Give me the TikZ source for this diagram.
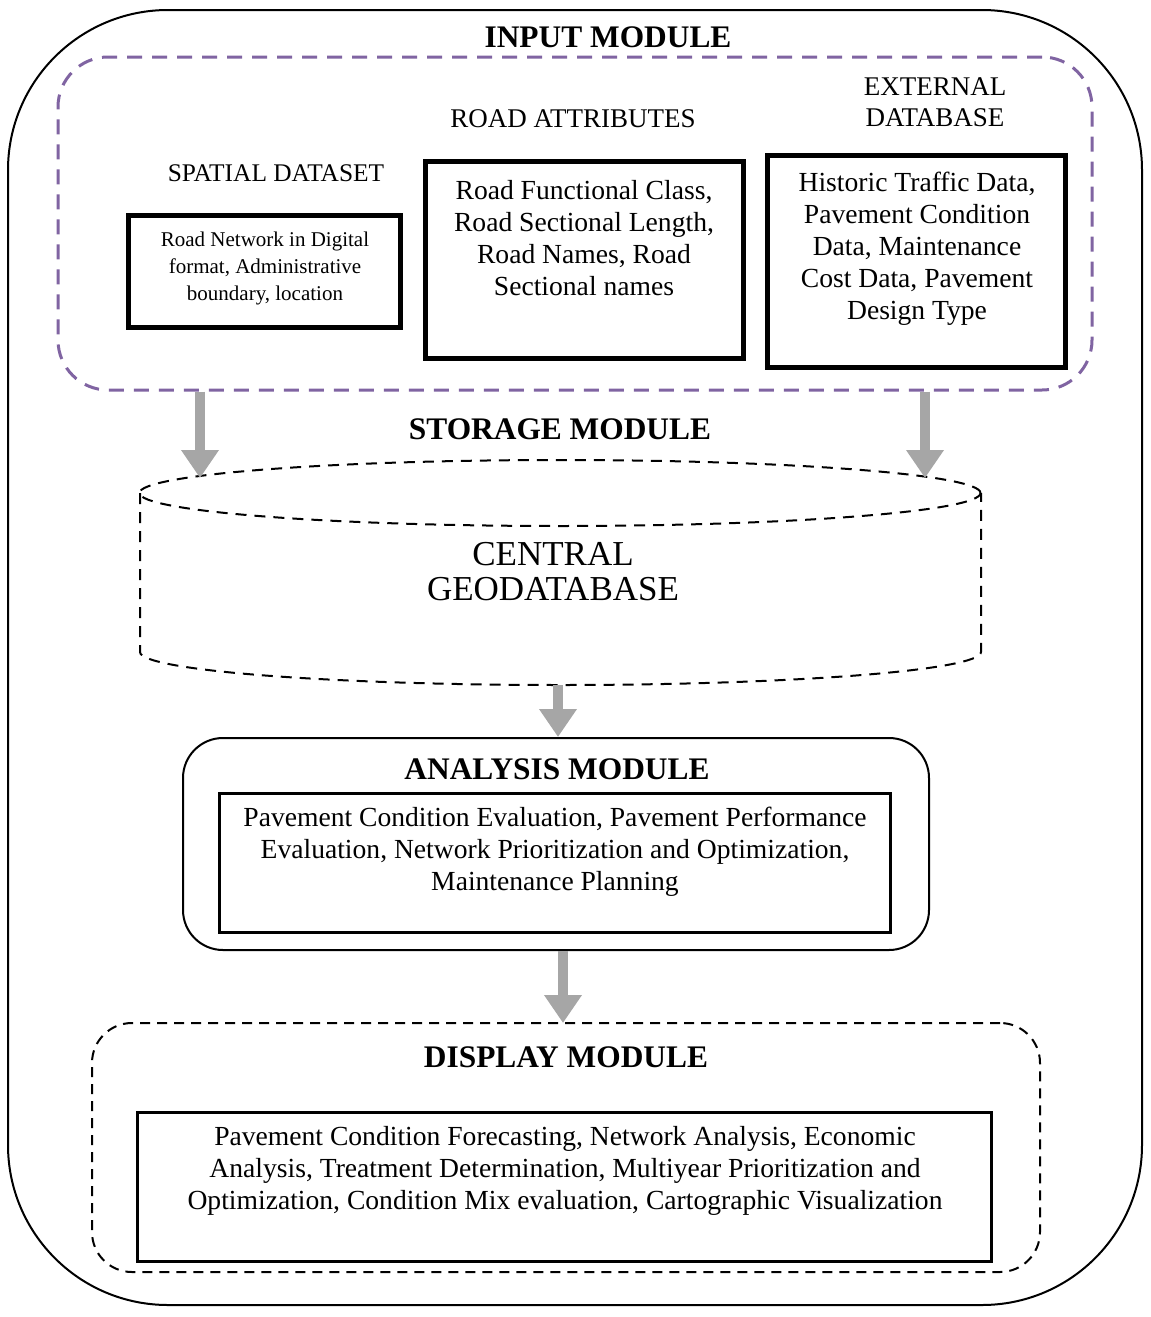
\documentclass[tikz,border=0pt]{standalone}
\usepackage{fontspec}
\setmainfont{Liberation Serif}
\usetikzlibrary{arrows.meta,positioning}

\definecolor{modpurple}{HTML}{8064A2}
\definecolor{flowgray}{HTML}{A6A6A6}

\tikzset{
  modtitle/.style={font=\bfseries\fontsize{15.7}{18}\selectfont, inner sep=0pt},
  grouplabel/.style={font=\fontsize{13.5}{15.5}\selectfont, align=center, inner sep=0pt},
  boxtext/.style={font=\fontsize{13.8}{16}\selectfont, align=center, inner sep=0pt},
  inbox/.style={draw, line width=2.5pt, inner sep=0pt},
  subbox/.style={draw, line width=1.5pt, inner sep=0pt},
  dbline/.style={line width=1pt, dash pattern=on 5.5pt off 4pt},
  flow/.style={draw=flowgray, line width=5pt, -{Triangle[width=18pt,length=14pt]}},
}

\begin{document}
\begin{tikzpicture}[x=0.5pt, y=-0.5pt]
    \useasboundingbox (0,0) rectangle (1151,1317);

    % Outer frame
    \node[draw, line width=1pt, rounded corners=80pt, minimum width=567pt, minimum height=647.5pt] (system) at (575,657.5) {};

    % Input module
    \node[draw=modpurple, line width=1.5pt, dash pattern=on 7.5pt off 5pt, rounded corners=25pt,
          minimum width=517pt, minimum height=166.5pt] (input) at (575,223.5) {};
    \node[modtitle] (inputtitle) at (608,37) {INPUT MODULE};

    % Spatial dataset
    \node[grouplabel, font=\fontsize{12.7}{15}\selectfont] (spatiallabel) at (276,173) {SPATIAL DATASET};
    \node[inbox, minimum width=136pt, minimum height=56pt] (spatialbox) at (264.5,271) {};
    \node[boxtext, font=\fontsize{10.5}{13.5}\selectfont] (spatialtext) at (265,268)
        {Road Network in Digital\\format, Administrative\\boundary, location};

    % Road attributes
    \node[grouplabel] (attrlabel) at (573,119) {ROAD ATTRIBUTES};
    \node[inbox, minimum width=159pt, minimum height=98.5pt] (attrbox) at (584.5,260) {};
    \node[boxtext] (attrtext) at (584,238)
        {Road Functional Class,\\Road Sectional Length,\\Road Names, Road\\Sectional names};

    % External database
    \node[grouplabel] (extlabel) at (935,102) {EXTERNAL\\DATABASE};
    \node[inbox, minimum width=149pt, minimum height=106pt] (extbox) at (916.5,261.5) {};
    \node[boxtext] (exttext) at (917,249)
        {Historic Traffic Data,\\Pavement Condition\\Data, Maintenance\\Cost Data, Pavement\\Design Type};

    % Storage module
    \node[modtitle] (storagetitle) at (560,429) {STORAGE MODULE};
    \draw[dbline] (560,493) ellipse [x radius=210.25pt, y radius=16.5pt];
    \draw[dbline] (140,493) -- (140,652)
        arc[start angle=180, end angle=360, x radius=210.25pt, y radius=16.5pt] -- (981,493);
    \node[boxtext, font=\fontsize{17.5}{17.5}\selectfont] (dbtext) at (553,572) {CENTRAL\\GEODATABASE};

    % Analysis module
    \node[draw, line width=1pt, rounded corners=20pt, minimum width=373pt, minimum height=106pt] (analysis) at (556,844) {};
    \node[modtitle] (analysistitle) at (557,769) {ANALYSIS MODULE};
    \node[subbox, minimum width=335.5pt, minimum height=69.5pt] (analysisbox) at (555,863) {};
    \node[boxtext] (analysistext) at (555,852)
        {Pavement Condition Evaluation, Pavement Performance\\Evaluation, Network Prioritization and Optimization,\\Maintenance Planning};

    % Display module
    \node[draw, line width=1pt, dash pattern=on 5pt off 3.5pt, rounded corners=20pt,
          minimum width=474pt, minimum height=124.5pt] (display) at (566,1147.5) {};
    \node[modtitle] (displaytitle) at (566,1057) {DISPLAY MODULE};
    \node[subbox, minimum width=427pt, minimum height=74.5pt] (displaybox) at (564.5,1187) {};
    \node[boxtext] (displaytext) at (565,1171)
        {Pavement Condition Forecasting, Network Analysis, Economic\\Analysis, Treatment Determination, Multiyear Prioritization and\\Optimization, Condition Mix evaluation, Cartographic Visualization};

    % Flow arrows
    \coordinate (dbinL) at (200,478);
    \coordinate (dbinR) at (925,478);
    \coordinate (dbout) at (558,685);
    \coordinate (dispin) at (563,1023);
    \draw[flow] (input.south -| dbinL) -- (dbinL);
    \draw[flow] (input.south -| dbinR) -- (dbinR);
    \draw[flow] (dbout) -- (dbout |- analysis.north);
    \draw[flow] (analysis.south -| dispin) -- (dispin);
\end{tikzpicture}
\end{document}
